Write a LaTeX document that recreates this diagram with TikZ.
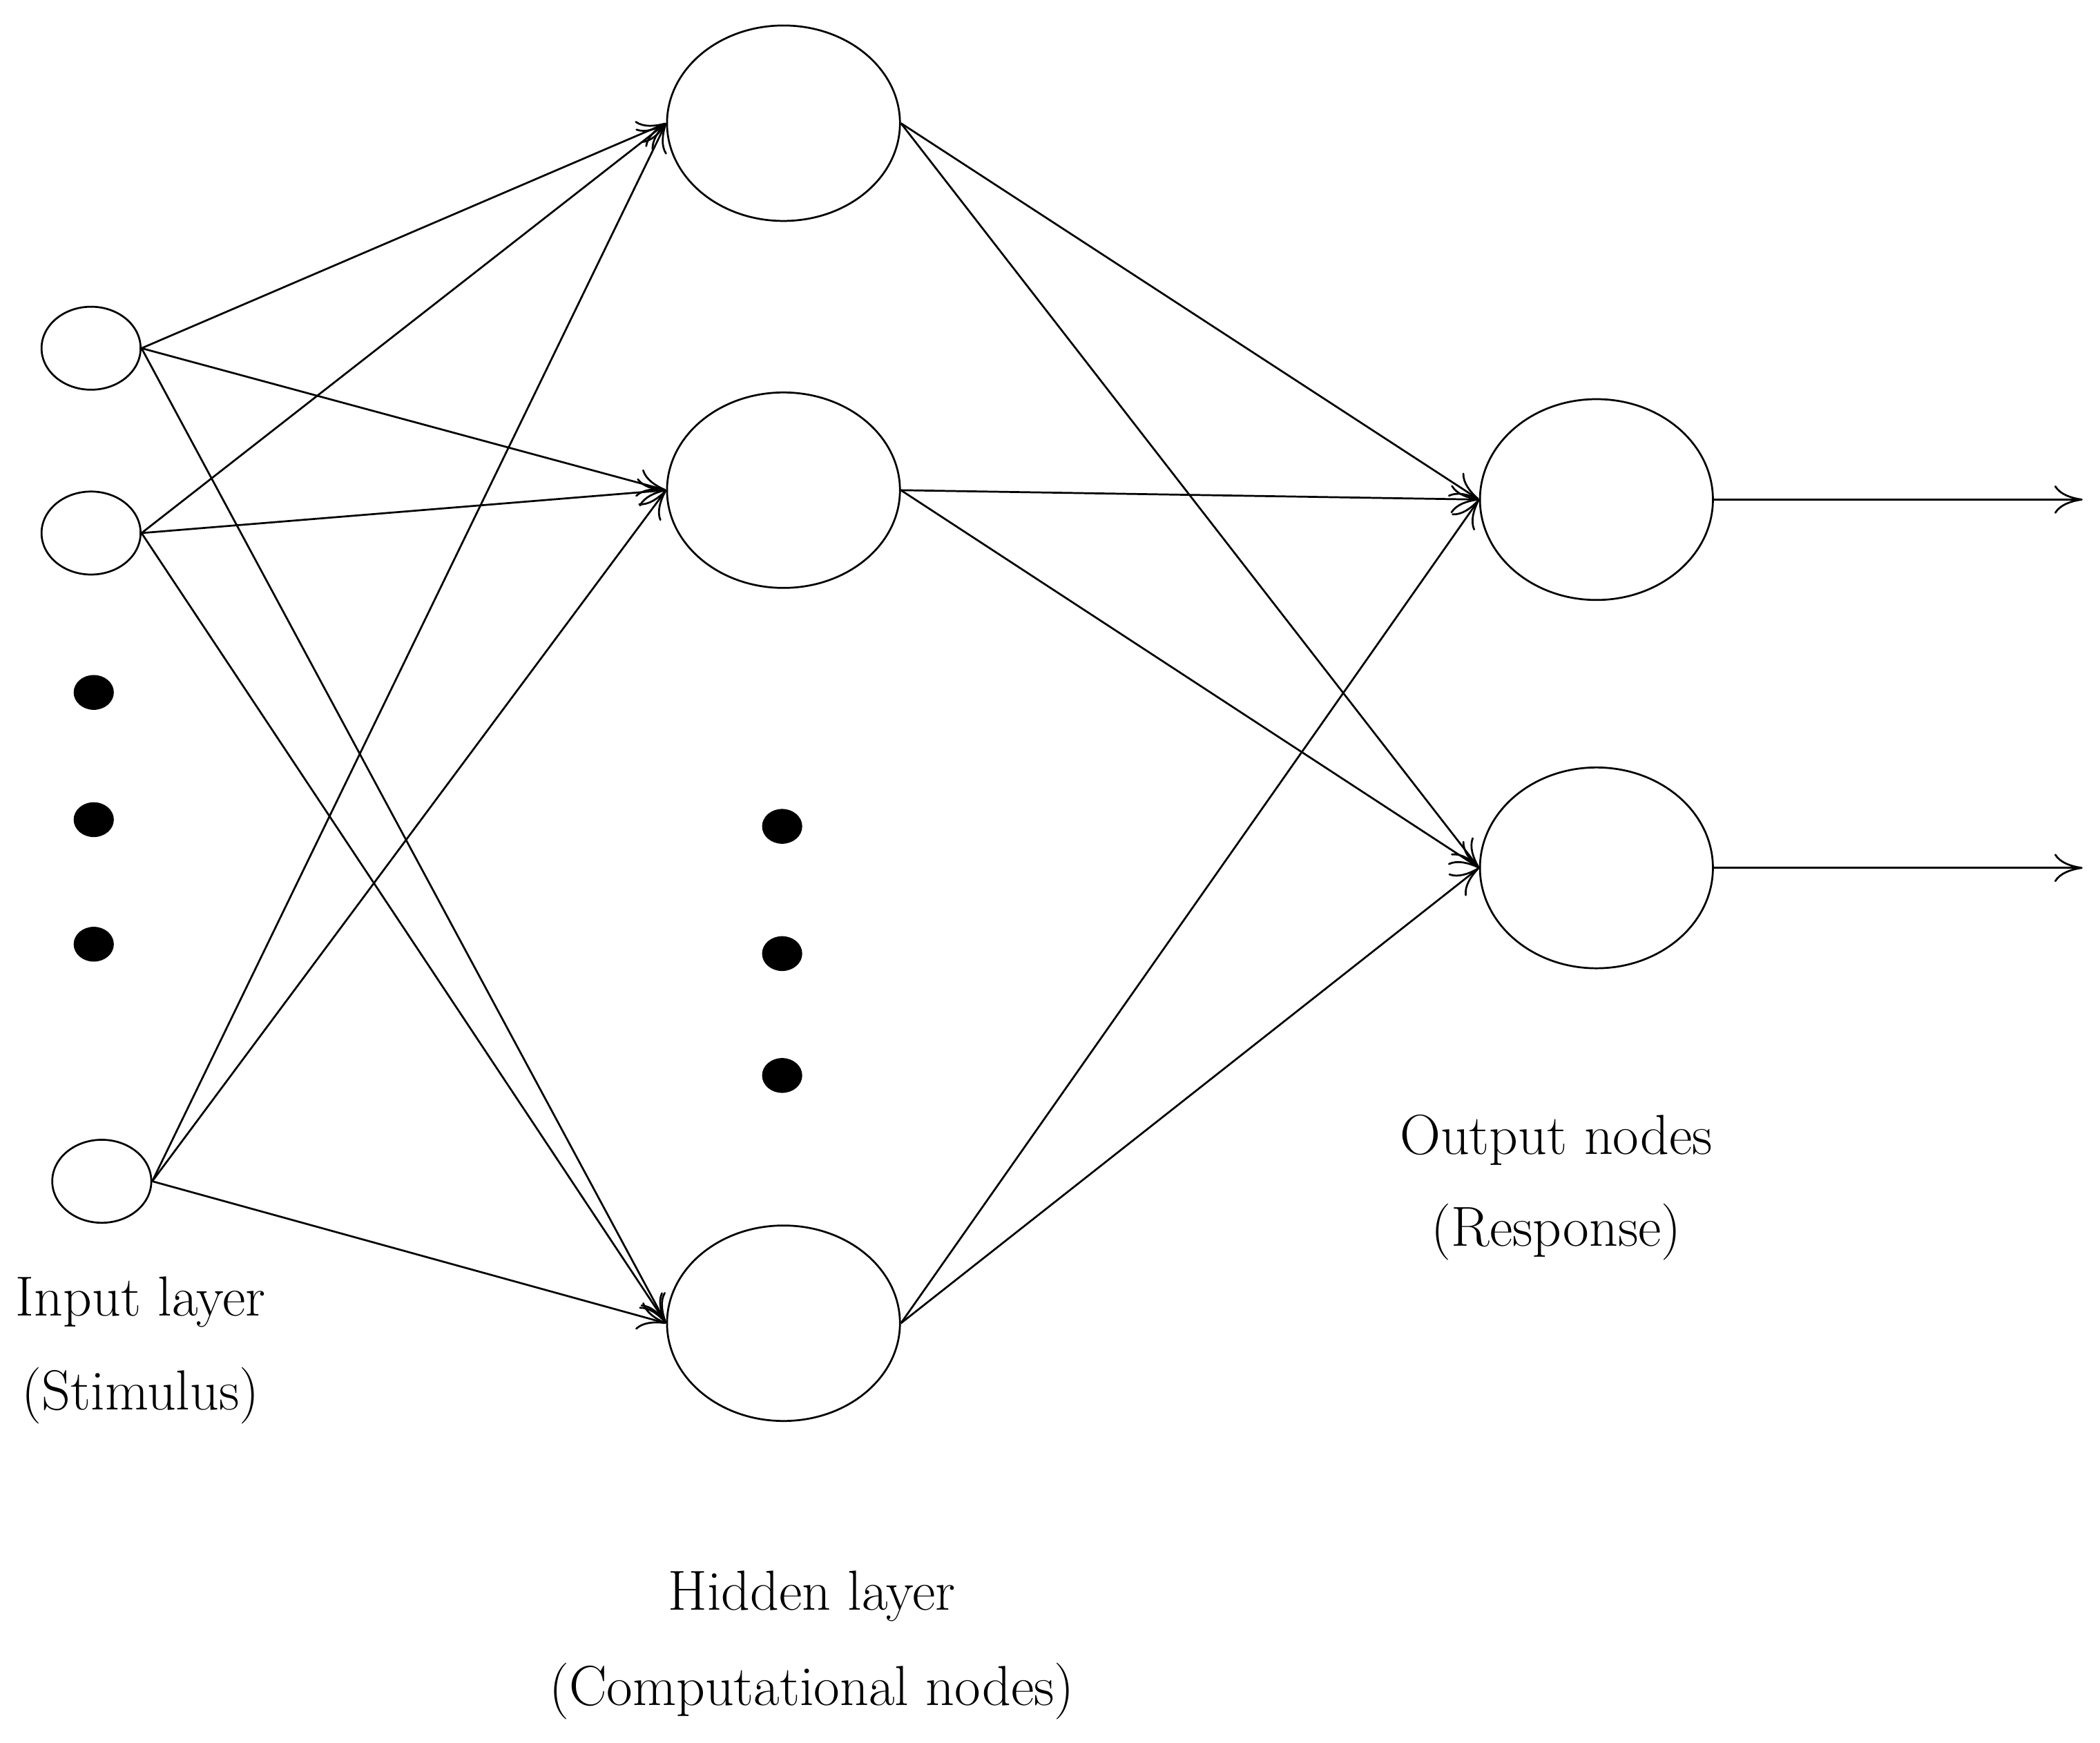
\documentclass[tikz,border=0pt]{standalone}
\usetikzlibrary{arrows.meta,shapes.geometric}
\begin{document}
\begin{tikzpicture}[x=0.02cm,y=-0.02cm,line width=0.8pt,
 el/.style n args={2}{draw,ellipse,minimum width=#1*0.04cm,minimum height=#2*0.04cm,inner sep=0pt},
 dot/.style={fill=black,ellipse,minimum width=0.6cm,minimum height=0.52cm,inner sep=0pt},
 con/.style={-{To[length=12pt,width=12pt]},line width=0.8pt},
 lab/.style={font=\fontsize{24}{28}\selectfont}]
\useasboundingbox (0,0) rectangle (1568,1301);
\node[el={37}{31}] (i1) at (68,260) {};
\node[el={37}{31}] (i2) at (68,398) {};
\node[el={37}{31}] (i3) at (76,882) {};
\node[dot] (d1) at (70,517) {};
\node[dot] (d2) at (70,612) {};
\node[dot] (d3) at (70,705) {};
\node[el={87}{73}] (h1) at (585,92) {};
\node[el={87}{73}] (h2) at (585,366) {};
\node[el={87}{73}] (h3) at (585,988) {};
\node[dot] (e1) at (584,617) {};
\node[dot] (e2) at (584,712) {};
\node[dot] (e3) at (584,803) {};
\node[el={87}{75}] (o1) at (1192,373) {};
\node[el={87}{75}] (o2) at (1192,648) {};
\coordinate (r1) at (1555,373);
\coordinate (r2) at (1555,648);
\foreach \a in {i1,i2,i3}{\foreach \b in {h1,h2,h3}{\draw[con] (\a.east) -- (\b.west);}}
\foreach \a in {h1,h2,h3}{\foreach \b in {o1,o2}{\draw[con] (\a.east) -- (\b.west);}}
\draw[con] (o1.east) -- (r1);
\draw[con] (o2.east) -- (r2);
\node[lab] (t1) at (105,972) {Input layer};
\node[lab] (t2) at (105,1042) {(Stimulus)};
\node[lab] (t3) at (606,1192) {Hidden layer};
\node[lab] (t4) at (606,1263) {(Computational nodes)};
\node[lab] (t5) at (1162,851) {Output nodes};
\node[lab] (t6) at (1162,920) {(Response)};
\end{tikzpicture}
\end{document}
